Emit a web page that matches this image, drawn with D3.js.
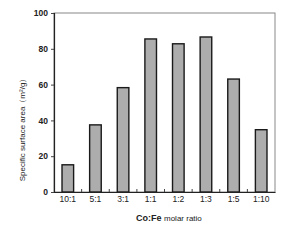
<!DOCTYPE html>
<html><head><meta charset="utf-8">
<script src="https://cdn.jsdelivr.net/npm/d3@7"></script>
<style>body{margin:0;background:#fff}svg{display:block}text{font-family:"Liberation Sans",Arial,sans-serif;fill:#222}</style>
</head><body><svg id="c" width="293" height="249"></svg>
<script>
const categories = ["10:1","5:1","3:1","1:1","1:2","1:3","1:5","1:10"];
const values = [15.2, 37.5, 58.3, 85.5, 82.8, 86.6, 63.1, 34.8];
const yTicks = [0,20,40,60,80,100];

const svg = d3.select("#c");
const m = {l:54, t:13, r:275, b:192};
const x = d3.scaleBand().domain(categories).range([m.l, m.r]).paddingInner(0.58).paddingOuter(0.29);
const xb = d3.scaleBand().domain(categories).range([m.l, m.r]);
const y = d3.scaleLinear().domain([0,100]).range([m.b, m.t]);

// frame
svg.append("rect").attr("x",m.l).attr("y",m.t).attr("width",m.r-m.l).attr("height",m.b-m.t)
  .attr("fill","none").attr("stroke","#888").attr("stroke-width",1);

// bars
svg.selectAll("rect.bar").data(values).enter().append("rect").attr("class","bar")
  .attr("x",(d,i)=>x(categories[i])).attr("width",x.bandwidth())
  .attr("y",d=>y(d)).attr("height",d=>y(0)-y(d))
  .attr("fill","#adadad").attr("stroke","#1a1a1a").attr("stroke-width",1.4);

// y axis
const ya = svg.append("g").attr("transform",`translate(${m.l},0)`)
  .call(d3.axisLeft(y).tickValues(yTicks).tickSize(3).tickPadding(3));
ya.select(".domain").attr("stroke","#222").attr("stroke-width",1.2);
ya.selectAll("line").attr("stroke","#444");
ya.selectAll("text").style("font-size","8.5px").style("font-weight","bold").attr("fill","#222");

// x axis
const xa = svg.append("g").attr("transform",`translate(0,${m.b})`)
  .call(d3.axisBottom(x).tickSize(0).tickPadding(4));
xa.select(".domain").attr("stroke","#222").attr("stroke-width",1.2);
xa.selectAll("text").style("font-size","8.5px").attr("fill","#222");
// category separator ticks (inward)
svg.append("g").selectAll("line").data(categories.slice(1)).enter().append("line")
  .attr("x1",d=>xb(d)).attr("x2",d=>xb(d)).attr("y1",m.b).attr("y2",m.b-3)
  .attr("stroke","#444").attr("stroke-width",1);

// titles
svg.append("text").attr("transform","translate(25,128) rotate(-90)").attr("text-anchor","middle")
  .style("font-size","8px").text("Specific surface area（m²/g）");
const xt = svg.append("text").attr("x",136).attr("y",221).attr("text-anchor","start");
xt.append("tspan").style("font-size","9px").style("font-weight","bold").text("Co:Fe ");
xt.append("tspan").style("font-size","8px").text("molar ratio");
</script></body></html>
